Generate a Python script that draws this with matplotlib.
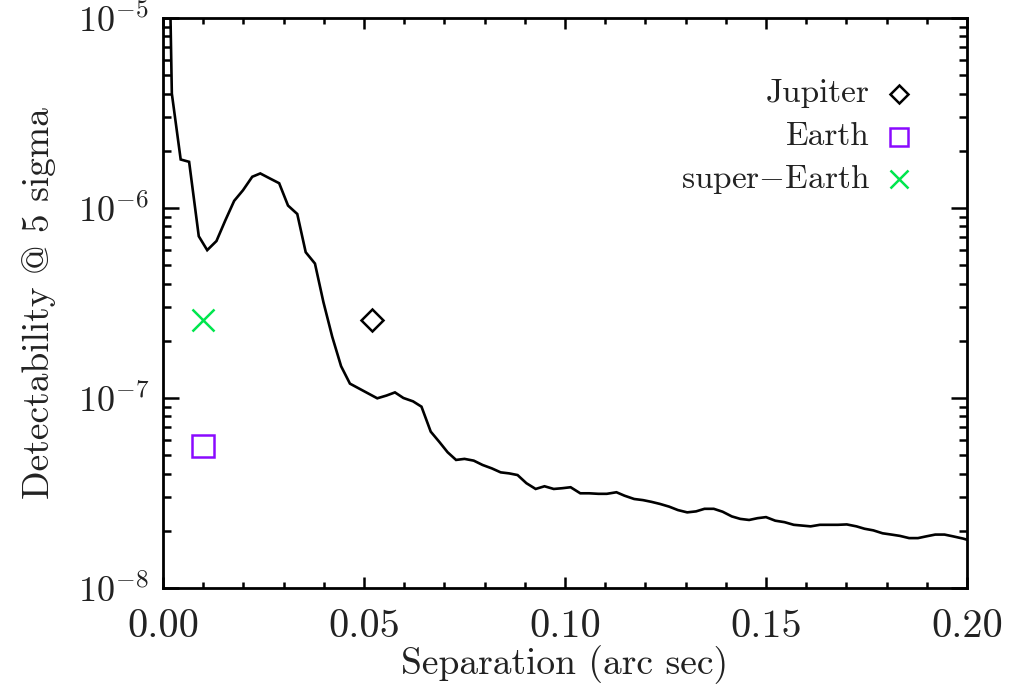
import matplotlib
matplotlib.use("Agg")
import matplotlib.pyplot as plt
from matplotlib.ticker import MultipleLocator, LogLocator, FormatStrFormatter, NullFormatter

plt.rcParams['font.family'] = ['cmr10', 'DejaVu Serif']
plt.rcParams['mathtext.fontset'] = 'cm'
plt.rcParams['axes.formatter.use_mathtext'] = True

# detection limit curve
sep = [0.0002, 0.0022, 0.0044, 0.0065, 0.0089, 0.0110, 0.0133, 0.0155, 0.0177, 0.0199,
       0.0222, 0.0242, 0.0266, 0.0289, 0.0311, 0.0334, 0.0355, 0.0378, 0.0399, 0.0421,
       0.0443, 0.0465, 0.0533, 0.0556, 0.0577, 0.0598, 0.0622, 0.0643, 0.0666, 0.0688,
       0.0708, 0.0729, 0.0750, 0.0773, 0.0795, 0.0818, 0.0840, 0.0861, 0.0882, 0.0904,
       0.0927, 0.0949, 0.0972, 0.0993, 0.1014, 0.1038, 0.1060, 0.1083, 0.1104, 0.1128,
       0.1148, 0.1172, 0.1194, 0.1215, 0.1236, 0.1259, 0.1281, 0.1304, 0.1326, 0.1347,
       0.1370, 0.1392, 0.1415, 0.1436, 0.1458, 0.1479, 0.1500, 0.1523, 0.1546, 0.1569,
       0.1590, 0.1611, 0.1634, 0.1656, 0.1679, 0.1701, 0.1725, 0.1745, 0.1767, 0.1790,
       0.1812, 0.1833, 0.1856, 0.1878, 0.1899, 0.1921, 0.1944, 0.1965, 0.1990, 0.2010]
detect = [1.0e-3, 4.0e-6, 1.80e-6, 1.75e-6, 7.1e-7, 6.0e-7, 6.7e-7, 8.6e-7, 1.09e-6, 1.24e-6,
          1.46e-6, 1.52e-6, 1.43e-6, 1.35e-6, 1.03e-6, 9.3e-7, 5.85e-7, 5.1e-7, 3.2e-7, 2.1e-7,
          1.47e-7, 1.19e-7, 9.96e-8, 1.03e-7, 1.07e-7, 1.0e-7, 9.6e-8, 9.0e-8, 6.65e-8, 5.85e-8,
          5.18e-8, 4.72e-8, 4.78e-8, 4.68e-8, 4.44e-8, 4.26e-8, 4.06e-8, 4.01e-8, 3.93e-8, 3.56e-8,
          3.32e-8, 3.43e-8, 3.32e-8, 3.35e-8, 3.39e-8, 3.15e-8, 3.15e-8, 3.13e-8, 3.13e-8, 3.19e-8,
          3.06e-8, 2.94e-8, 2.90e-8, 2.84e-8, 2.77e-8, 2.68e-8, 2.57e-8, 2.50e-8, 2.53e-8, 2.61e-8,
          2.61e-8, 2.52e-8, 2.38e-8, 2.31e-8, 2.28e-8, 2.33e-8, 2.36e-8, 2.26e-8, 2.22e-8, 2.15e-8,
          2.13e-8, 2.11e-8, 2.15e-8, 2.15e-8, 2.15e-8, 2.16e-8, 2.11e-8, 2.05e-8, 2.01e-8, 1.94e-8,
          1.91e-8, 1.88e-8, 1.83e-8, 1.83e-8, 1.87e-8, 1.91e-8, 1.91e-8, 1.87e-8, 1.82e-8, 1.77e-8]

# planets
names = ['Jupiter', 'Earth', r'super$-$Earth']
planet_sep = [0.052, 0.010, 0.010]
planet_val = [2.58e-7, 5.6e-8, 2.58e-7]
markers = ['D', 's', 'x']
colors = ['black', '#8a0aff', '#00e64d']
sizes = [11, 16, 16]
legend_sizes = [9, 13, 13]

fig = plt.figure(figsize=(10.13, 6.95), dpi=100)
ax = fig.add_axes([0.1609, 0.1540, 0.7937, 0.8201])

ax.plot(sep, detect, color='black', lw=1.9, solid_joinstyle='miter')
for i in range(3):
    ax.plot(planet_sep[i], planet_val[i], marker=markers[i], ms=sizes[i],
            mfc='none', mec=colors[i], mew=1.8, ls='none')

# legend, drawn by hand (text on the left, symbol on the right)
leg_y = [0.8667, 0.7918, 0.7175]
for i in range(3):
    ax.text(0.8794, leg_y[i], names[i], transform=ax.transAxes, ha='right',
            va='center', fontsize=24, color='#222222')
    ax.plot(0.9154, leg_y[i], transform=ax.transAxes, marker=markers[i],
            ms=legend_sizes[i], mfc='none', mec=colors[i], mew=1.8, ls='none')

ax.set_yscale('log')
ax.set_xlim(0, 0.2)
ax.set_ylim(1e-8, 1e-5)
ax.xaxis.set_major_locator(MultipleLocator(0.05))
ax.xaxis.set_minor_locator(MultipleLocator(0.01))
ax.xaxis.set_major_formatter(FormatStrFormatter('%.2f'))
ax.yaxis.set_major_locator(LogLocator(base=10, numticks=10))
ax.yaxis.set_minor_locator(LogLocator(base=10, subs=range(2, 10), numticks=20))
ax.yaxis.set_minor_formatter(NullFormatter())

ax.tick_params(which='both', direction='in', top=True, right=True, width=1.8, colors='black')
ax.tick_params(axis='x', which='major', length=8, pad=15, labelsize=29, labelcolor='#222222')
ax.tick_params(axis='x', which='minor', length=4.3)
ax.tick_params(axis='y', which='major', length=11.5, pad=10, labelsize=26, labelcolor='#222222')
ax.tick_params(axis='y', which='minor', length=5.8)
for s in ax.spines.values():
    s.set_linewidth(2)

ax.set_xlabel('Separation (arc sec)', fontsize=27, color='#222222')
ax.set_ylabel('Detectability @ 5 sigma', fontsize=27, color='#222222')
ax.xaxis.set_label_coords(0.5, -0.100)
ax.yaxis.set_label_coords(-0.133, 0.5)

fig.savefig('out.png', dpi=100)
